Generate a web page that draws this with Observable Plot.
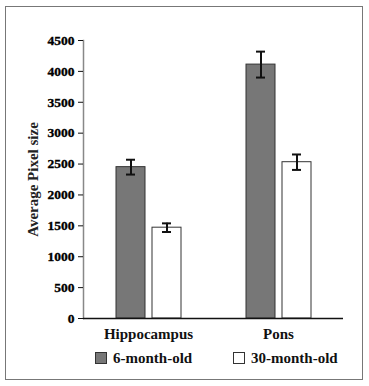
<!DOCTYPE html>
<html>
<head>
<meta charset="utf-8">
<script src="https://cdn.jsdelivr.net/npm/d3@7"></script>
<script src="https://cdn.jsdelivr.net/npm/@observablehq/plot@0.6"></script>
<style>
  html, body { margin: 0; padding: 0; background: #fff; }
  #wrap { position: relative; width: 369px; height: 386px; overflow: hidden; font-family: "Liberation Serif", "Times New Roman", serif; }
  #border { position: absolute; left: 5px; top: 6px; width: 356px; height: 372px; border: 1.5px solid #777; }
  #chart { position: absolute; left: 0; top: 0; }
  .leg { position: absolute; top: 350px; font-weight: bold; font-size: 15px; color: #111; display: flex; align-items: center; line-height: 16px; }
  .sw { width: 10px; height: 10px; border: 1px solid #333; margin-right: 6px; }
  #chart svg g[aria-label="y-axis tick label"] text { font-weight: bold; font-size: 13.5px; fill: #000; stroke: #000; stroke-width: 0.35px; }
  #chart svg g[aria-label="y-axis label"] text { font-weight: bold; font-size: 15px; fill: #222; }
  #chart svg g[aria-label="fx-axis tick label"] text { font-weight: bold; font-size: 15px; fill: #111; }
</style>
</head>
<body>
<div id="wrap">
  <div id="border"></div>
  <div id="chart"></div>
  <div class="leg" style="left:95px"><div class="sw" style="background:#777"></div><span>6-month-old</span></div>
  <div class="leg" style="left:233px"><div class="sw" style="background:#fff"></div><span>30-month-old</span></div>
</div>
<script>
const regions = ["Hippocampus", "Pons"];
const groups = ["6-month-old", "30-month-old"];
const means6 = [2450, 4110];
const means30 = [1470, 2530];
const err6 = [120, 210];
const err30 = [70, 125];
const yTicks = [0, 500, 1000, 1500, 2000, 2500, 3000, 3500, 4000, 4500];

const data = [];
regions.forEach((r, i) => {
  data.push({region: r, group: groups[0], value: means6[i], err: err6[i]});
  data.push({region: r, group: groups[1], value: means30[i], err: err30[i]});
});

const chart = Plot.plot({
  width: 369,
  height: 345,
  marginLeft: 83,
  marginRight: 26,
  marginTop: 40,
  marginBottom: 27,
  style: {fontFamily: "'Liberation Serif', 'Times New Roman', serif", background: "transparent", color: "#111"},
  fx: {domain: regions, padding: 0, axis: "bottom", label: null, tickSize: 0, tickPadding: 10},
  x: {domain: groups, axis: null, paddingInner: 0.2, paddingOuter: 0.9},
  y: {domain: [0, 4500], ticks: yTicks},
  color: {domain: groups, range: ["#777777", "#ffffff"]},
  marks: [
    Plot.frame({anchor: "left", facetAnchor: "left", stroke: "#888", strokeWidth: 1.5}),
    Plot.axisY({ticks: yTicks, tickFormat: d3.format("d"), tickSize: 5, tickPadding: 4,
      fontWeight: "bold", fontSize: 13.5,
      label: "Average Pixel size", labelAnchor: "center", labelArrow: "none", labelOffset: 56}),
    Plot.barY(data, {fx: "region", x: "group", y: "value", fill: "group", stroke: "#333", strokeWidth: 1}),
    Plot.ruleX(data, {fx: "region", x: "group", y1: d => d.value - d.err, y2: d => d.value + d.err, stroke: "#111", strokeWidth: 2}),
    Plot.tickY(data, {fx: "region", x: "group", y: d => d.value - d.err, stroke: "#111", strokeWidth: 2, insetLeft: 10, insetRight: 10}),
    Plot.tickY(data, {fx: "region", x: "group", y: d => d.value + d.err, stroke: "#111", strokeWidth: 2, insetLeft: 10, insetRight: 10}),
    Plot.ruleY([0], {stroke: "#111", strokeWidth: 1.5})
  ]
});
document.getElementById("chart").appendChild(chart);
</script>
</body>
</html>
